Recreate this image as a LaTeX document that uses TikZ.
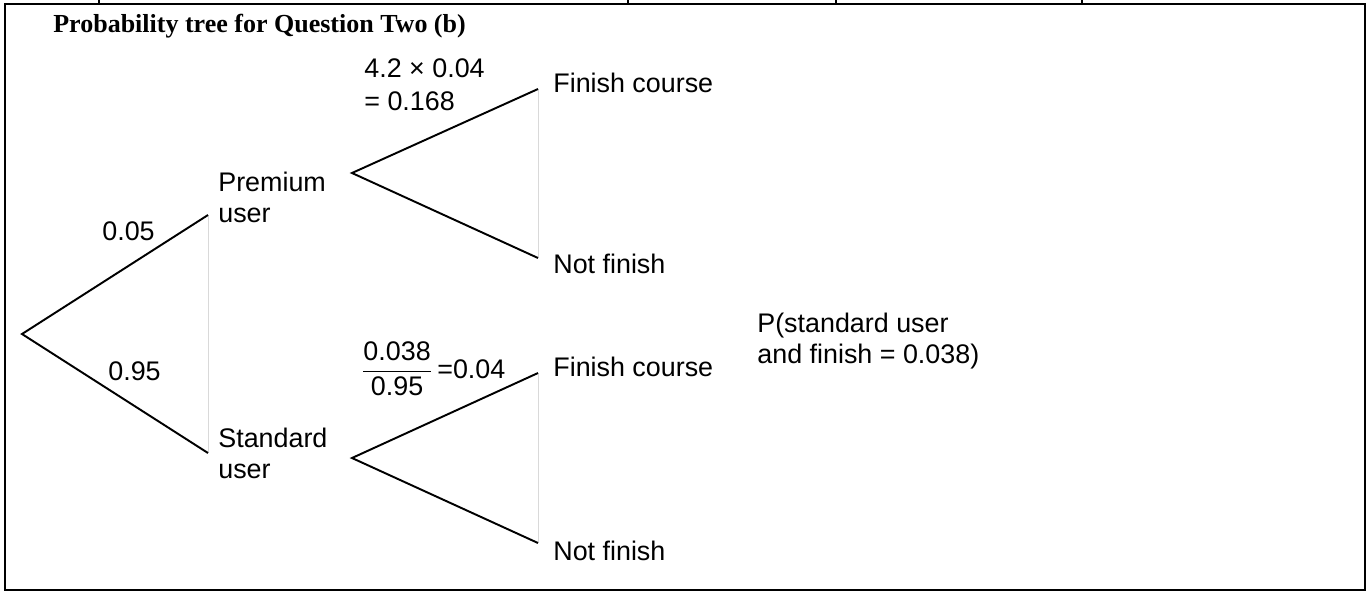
\documentclass[tikz,border=0pt]{standalone}
\usepackage{amsmath}
\usepackage{fontspec}
\setmainfont{Liberation Sans}
\newfontfamily\headfont{Liberation Serif}
\usepackage{tikz}

\begin{document}
\begin{tikzpicture}[
  x=0.02cm, y=-0.02cm,
  every node/.style={inner sep=0pt, anchor=base west, align=left, font=\fontsize{15.3}{17.2}\selectfont},
  heading/.style={font=\fontsize{14.8}{17}\selectfont\headfont\bfseries},
  branch/.style={line width=1.1pt},
  guide/.style={line width=0.4pt, gray!30},
  frame/.style={line width=1.2pt}
]
\useasboundingbox (0,0) rectangle (1372,593);
\draw[frame] (5,4) rectangle (1365,590);
\foreach \tx in {99,628,836,1082}
  \draw[line width=0.6pt] (\tx,0) -- (\tx,4);

\node[heading] (title) at (53,32) {Probability tree for Question Two (b)};

\coordinate (root) at (22,334);
\coordinate (prem) at (208,215);
\coordinate (std) at (208,453);
\coordinate (premfork) at (352,173);
\coordinate (stdfork) at (352,458);
\coordinate (premfin) at (538,89);
\coordinate (premnot) at (538,258);
\coordinate (stdfin) at (538,373);
\coordinate (stdnot) at (538,543);

\draw[guide] (prem) -- (std);
\draw[guide] (premfin) -- (premnot);
\draw[guide] (stdfin) -- (stdnot);
\draw[branch] (prem) -- (root) -- (std);
\draw[branch] (premfin) -- (premfork) -- (premnot);
\draw[branch] (stdfin) -- (stdfork) -- (stdnot);

\node (ppremium) at (102,240) {0.05};
\node (pstandard) at (108,380) {0.95};
\node (premium) at (218,222) {Premium\\user};
\node (standard) at (218,478) {Standard\\user};
\node (premcalc) at (364,110) {4.2 × 0.04\\[1.5pt]= 0.168};
\node (stdcalc) at (361,378) {$\dfrac{\text{0.038}}{\text{0.95}}$\,=0.04};
\node (premfinish) at (553,92) {Finish course};
\node (premnotfinish) at (553,273) {Not finish};
\node (stdfinish) at (553,376) {Finish course};
\node (stdnotfinish) at (553,560) {Not finish};
\node (joint) at (757,363) {P(standard user\\and finish = 0.038)};
\end{tikzpicture}
\end{document}
